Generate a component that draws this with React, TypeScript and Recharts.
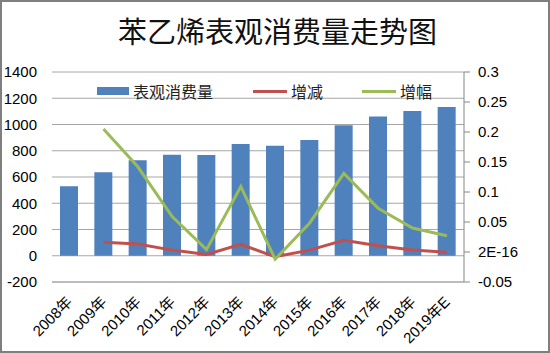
import React from 'react';
import { ComposedChart, Bar, Line, XAxis, YAxis, CartesianGrid } from 'recharts';

const years = ['2008年', '2009年', '2010年', '2011年', '2012年', '2013年', '2014年', '2015年', '2016年', '2017年', '2018年', '2019年E'];
const consumption = [530, 636, 728, 769, 767, 852, 838, 881, 995, 1061, 1102, 1133];
const change = [null, 102, 89, 43, 10, 87, -8, 43, 118, 76, 43, 27];
const growth = [null, 0.205, 0.142, 0.059, 0.004, 0.109, -0.012, 0.048, 0.131, 0.073, 0.04, 0.027];

const leftTicks = [-200, 0, 200, 400, 600, 800, 1000, 1200, 1400];
const rightTicks = [-0.05, 0, 0.05, 0.1, 0.15, 0.2, 0.25, 0.3];

const data = years.map((year, i) => ({
  year,
  consumption: consumption[i],
  change: change[i],
  growth: growth[i],
}));

const latin = "'Liberation Sans', 'Noto Sans CJK SC', sans-serif";
const cjk = "'Noto Sans CJK SC', sans-serif";

const BLUE = '#4f81bd';
const RED = '#c0504d';
const GREEN = '#9bbb59';

// excel prints the zero of the secondary axis as a float artefact
const rightLabel = (v: number) => (Math.abs(v) < 1e-9 ? '2E-16' : String(+v.toFixed(2)));

const YearTick = (props: any) => {
  const { x, payload } = props;
  const tx = x + 4;
  const ty = 303;
  return (
    <text x={tx} y={ty} textAnchor="end" fontSize={15} fill="#000" fontFamily={latin} transform={`rotate(-45, ${tx}, ${ty})`}>
      {payload.value}
    </text>
  );
};

const LegendItem = ({ left, width, kind, color, label }: any) => (
  <div style={{ position: 'absolute', left, top: 0, height: 20, display: 'flex', alignItems: 'center' }}>
    <div style={{ width, height: kind === 'bar' ? 8 : 3, background: color, marginRight: 4 }} />
    <span style={{ fontFamily: cjk, fontSize: 16, color: '#222', lineHeight: '20px' }}>{label}</span>
  </div>
);

export default function App() {
  return (
    <div style={{ position: 'absolute', left: 0, top: 0, width: 550, height: 353, background: '#fff' }}>
      <div
        style={{
          position: 'absolute',
          left: 0,
          top: 13,
          width: 555,
          textAlign: 'center',
          fontFamily: cjk,
          fontSize: 29,
          lineHeight: '34px',
          color: '#111',
        }}
      >
        苯乙烯表观消费量走势图
      </div>
      <ComposedChart width={550} height={353} data={data} margin={{ top: 72, right: 0, left: 0, bottom: 0 }} barSize={18}>
        <CartesianGrid yAxisId="left" vertical={false} stroke="#a6a6a6" />
        <XAxis dataKey="year" height={71} tickLine={false} axisLine={{ stroke: '#a6a6a6' }} interval={0} tick={<YearTick />} />
        <YAxis
          yAxisId="left"
          width={52}
          domain={[-200, 1400]}
          ticks={leftTicks}
          tickLine={false}
          axisLine={false}
          tickMargin={9}
          tick={{ fontSize: 15, fill: '#000', fontFamily: latin }}
        />
        <YAxis
          yAxisId="right"
          orientation="right"
          width={86}
          domain={[-0.05, 0.3]}
          ticks={rightTicks}
          tickFormatter={rightLabel}
          tickSize={6}
          tickMargin={8}
          tickLine={{ stroke: '#868686' }}
          axisLine={{ stroke: '#868686' }}
          tick={{ fontSize: 15, fill: '#000', fontFamily: latin, textAnchor: 'start' }}
        />
        <Bar yAxisId="left" dataKey="consumption" fill={BLUE} isAnimationActive={false} />
        <Line yAxisId="left" dataKey="change" stroke={RED} strokeWidth={3} dot={false} isAnimationActive={false} />
        <Line yAxisId="right" dataKey="growth" stroke={GREEN} strokeWidth={3} dot={false} isAnimationActive={false} />
      </ComposedChart>
      <div style={{ position: 'absolute', left: 0, top: 81, width: 550, height: 20 }}>
        <LegendItem left={97} width={32} kind="bar" color={BLUE} label="表观消费量" />
        <LegendItem left={253} width={34} kind="line" color={RED} label="增减" />
        <LegendItem left={362} width={34} kind="line" color={GREEN} label="增幅" />
      </div>
      <div style={{ position: 'absolute', left: 0, top: 0, width: 550, height: 353, boxSizing: 'border-box', border: '2px solid #7f7f7f', pointerEvents: 'none' }} />
    </div>
  );
}
